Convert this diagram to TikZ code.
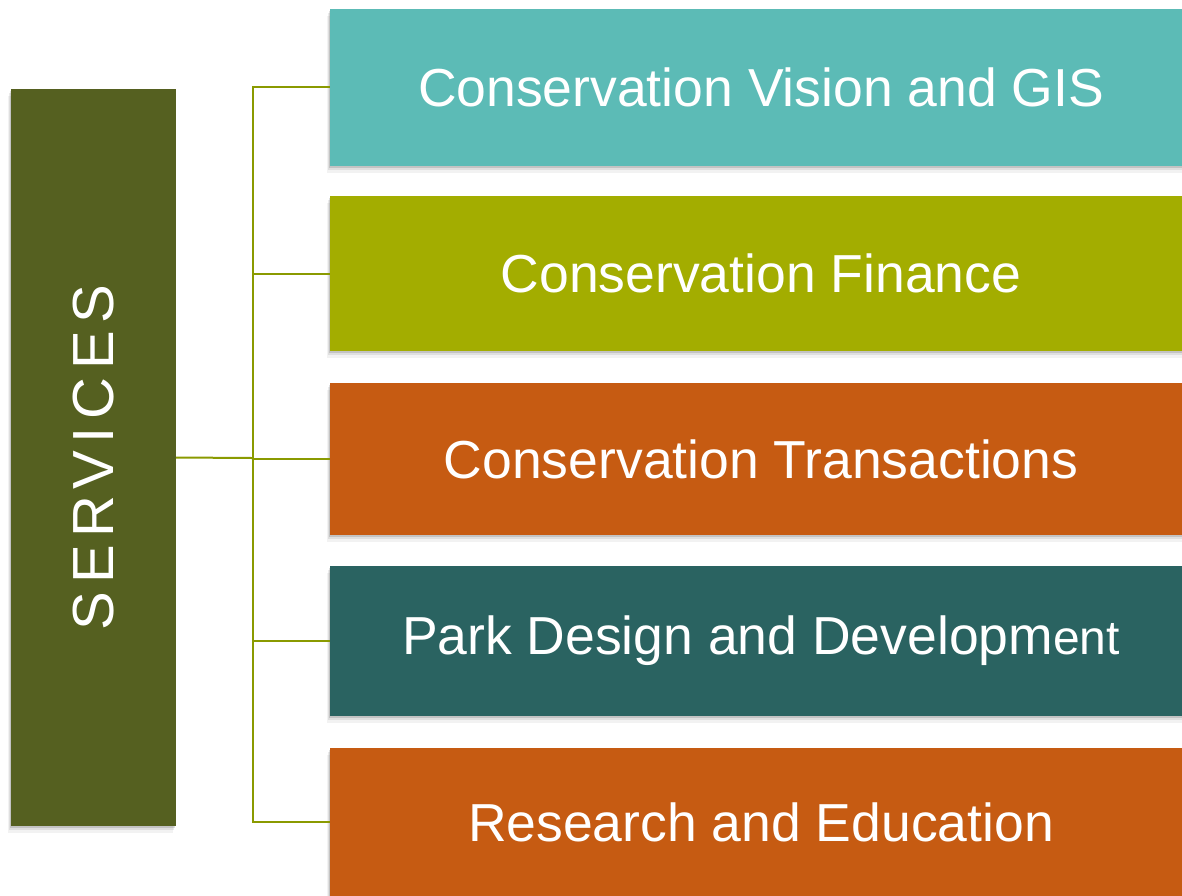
\documentclass[tikz,border=0pt]{standalone}
\usepackage{fontspec}
\setmainfont{Liberation Sans}
\usetikzlibrary{shadows}

\definecolor{servicecolor}{RGB}{85, 96, 32}
\definecolor{visioncolor}{RGB}{92, 187, 182}
\definecolor{financecolor}{RGB}{163, 173, 0}
\definecolor{transcolor}{RGB}{198, 91, 18}
\definecolor{parkcolor}{RGB}{42, 99, 97}
\definecolor{linkcolor}{RGB}{138, 154, 0}

\tikzset{
    softshadow/.style={
        drop shadow={shadow xshift=-1pt, shadow yshift=-2pt, opacity=0.12, fill=black},
        drop shadow={shadow xshift=-2pt, shadow yshift=-4pt, opacity=0.08, fill=black},
        drop shadow={shadow xshift=-3pt, shadow yshift=-7pt, opacity=0.05, fill=black}
    },
    servicebox/.style={fill=#1, text=white, inner sep=0pt, softshadow,
        font=\fontsize{53.5}{60}\selectfont},
    link/.style={linkcolor, line width=2pt}
}

\begin{document}
\begin{tikzpicture}[x=1pt, y=-1pt]

    % fixed page frame
    \useasboundingbox (0,0) rectangle (1182,895);

    % ==========================================
    % --- Left column ---
    % ==========================================
    \node[fill=servicecolor, softshadow, minimum width=165pt, minimum height=737pt,
          inner sep=0pt] (services) at (93.5, 457.5) {};
    \node[text=white, rotate=90, inner sep=0pt,
          font=\fontsize{58}{64}\selectfont\addfontfeatures{LetterSpace=13}]
          (servlabel) at (94, 457.5) {SERVICES};

    % branching point of the tree
    \coordinate (trunk) at (253, 458);
    \draw[link] (services.east) -- (trunk);

    % ==========================================
    % --- Right column (boxes run past the page edge) ---
    % ==========================================
    \foreach \id/\yc/\hgt/\col/\txt in {
        vision/87/157/visioncolor/Conservation Vision and GIS,
        finance/273.5/155/financecolor/Conservation Finance,
        trans/459/152/transcolor/Conservation Transactions,
        park/641/150/parkcolor/{Park Design and Developm{\fontsize{48}{54}\selectfont ent}},
        research/822/148/transcolor/Research and Education} {
        \node[servicebox=\col, minimum width=862pt, minimum height=\hgt pt]
              (\id) at (761, \yc) {\txt};
        \draw[link] (trunk) |- (\id.west);
    }

\end{tikzpicture}
\end{document}
